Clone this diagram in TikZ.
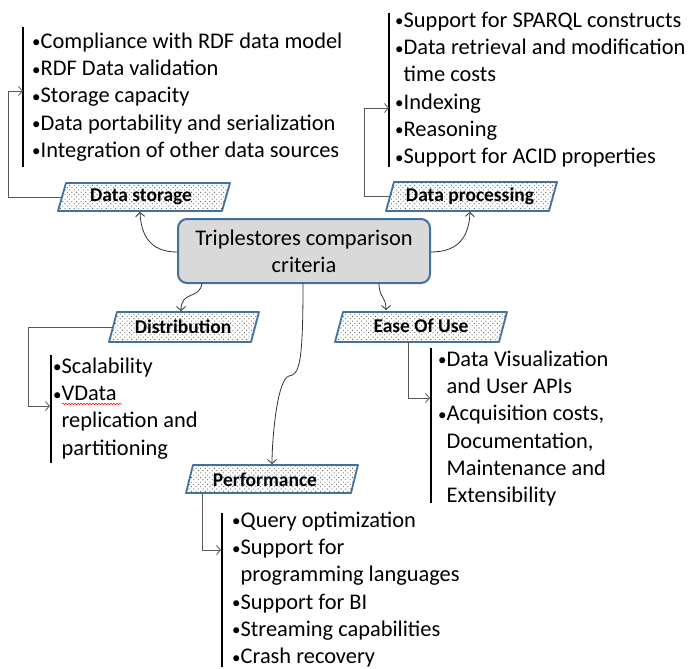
\documentclass[tikz,border=0pt]{standalone}
\usepackage{fontspec}
\setmainfont{Carlito}
\usetikzlibrary{arrows.meta,patterns,decorations.pathmorphing}
\definecolor{boxblue}{HTML}{41719C}
\definecolor{centerfill}{HTML}{D9D9D9}
\definecolor{conngray}{HTML}{595959}
\pgfdeclarepatternformonly{sdots}{\pgfqpoint{-1pt}{-1pt}}{\pgfqpoint{5pt}{5pt}}{\pgfqpoint{4.6pt}{4.6pt}}{%
  \pgfpathcircle{\pgfqpoint{0.6pt}{0.6pt}}{0.55pt}
  \pgfpathcircle{\pgfqpoint{2.9pt}{2.9pt}}{0.55pt}
  \pgfusepath{fill}}
\tikzset{
  para/.style={draw=boxblue, line width=1.8pt, line join=round, preaction={fill=white}, pattern=sdots, pattern color=black!70},
  paralbl/.style={font=\bfseries\fontsize{19.5}{21}\selectfont, inner sep=0pt, fill=none},
  central/.style={draw=boxblue, line width=2pt, fill=centerfill, rounded corners=9pt, align=center, font=\fontsize{22.4}{27}\selectfont},
  bullets/.style={anchor=north west, inner sep=0pt, align=left, font=\fontsize{22.4}{27.3}\selectfont},
  bracket/.style={line width=2.2pt, black},
  stepconn/.style={conngray, line width=0.8pt, -{Straight Barb[length=4pt,width=9pt]}},
  curveconn/.style={black!80, line width=0.8pt, -{Straight Barb[length=4pt,width=9pt]}},
}
\newcommand{\fst}{\rule{0pt}{16pt}}
\newcommand{\bl}{\makebox[8.5pt][l]{\raisebox{0.5pt}{\fontsize{17}{17}\selectfont•}}}
\newcommand{\ind}{\hspace*{8.5pt}}
\begin{document}
\begin{tikzpicture}[x=1pt,y=-1pt]
\useasboundingbox (0,0) rectangle (688,669);

% central node
\node[central, minimum width=252pt, minimum height=64pt] (c) at (304,251) {Triplestores comparison\\criteria};

% parallelograms
\path[para] (58,211) -- (66,183) -- (230,183) -- (222,211) -- cycle;
\node[paralbl] (ds) at (141,197) {Data storage};
\path[para] (386,211) -- (394,182) -- (557,182) -- (549,211) -- cycle;
\node[paralbl] (dp) at (470,196) {Data processing};
\path[para] (109,342) -- (117,312) -- (259,312) -- (251,342) -- cycle;
\node[paralbl] (di) at (183,327) {Distribution};
\path[para] (335,342) -- (343,312) -- (507,312) -- (499,342) -- cycle;
\node[paralbl] (eu) at (421,326) {Ease Of Use};
\path[para] (186,493) -- (193,465) -- (358,465) -- (351,493) -- cycle;
\node[paralbl] (pf) at (265,480) {Performance};

% named coordinates
\coordinate (dsL) at (62,197);
\coordinate (dsC) at (8,197);
\coordinate (dsB) at (8,91);
\coordinate (dsT) at (23,91);
\coordinate (dpL) at (390,196);
\coordinate (dpC) at (364,196);
\coordinate (dpB) at (364,108);
\coordinate (dpT) at (389,108);
\coordinate (diL) at (113,327);
\coordinate (diC) at (28,327);
\coordinate (diB) at (28,406);
\coordinate (diT) at (50,406);
\coordinate (euL) at (408,342);
\coordinate (euB) at (408,398);
\coordinate (euT) at (430,398);
\coordinate (pfL) at (202,493);
\coordinate (pfB) at (202,550);
\coordinate (pfT) at (221,550);

% brackets
\draw[bracket] (23,27) -- (23,167);
\draw[bracket] (389,13) -- (389,167);
\draw[bracket] (51,355) -- (51,463);
\draw[bracket] (431,348) -- (431,503);
\draw[bracket] (222,513) -- (222,667);

% step connectors
\draw[stepconn] (dsL) -- (dsC) -- (dsB) -- (dsT);
\draw[stepconn] (dpL) -- (dpC) -- (dpB) -- (dpT);
\draw[stepconn] (diL) -- (diC) -- (diB) -- (diT);
\draw[stepconn] (euL) -- (euB) -- (euT);
\draw[stepconn] (pfL) -- (pfB) -- (pfT);

% curved connectors from central node
\coordinate (dsA) at (140,212);
\coordinate (dpA) at (470,212);
\coordinate (diA) at (181,311);
\coordinate (euA) at (386,310);
\coordinate (pfA) at (272,464);
\coordinate (pfM) at (289,376);
\draw[curveconn] (c.west |- 0,252) .. controls (150,252) and (141,235) .. (dsA);
\draw[curveconn] (c.east |- 0,252) .. controls (460,252) and (469,235) .. (dpA);
\draw[curveconn] (202,283) .. controls (200,300) and (181,290) .. (diA);
\draw[curveconn] (379,283) .. controls (379,298) and (386,296) .. (euA);
\draw[curveconn] (303,283) .. controls (303,360) and (300,375) .. (pfM) .. controls (277,379) and (272,440) .. (pfA);

% bullet texts
\node[bullets] (dst) at (32,32) {\fst\bl Compliance with RDF data model\\\bl RDF Data validation\\\bl Storage capacity\\\bl Data portability and serialization\\\bl Integration of other data sources};
\node[bullets] (dpt) at (395,11) {\fst\bl Support for SPARQL constructs\\\bl Data retrieval and modification\\\ind time costs\\\bl Indexing\\\bl Reasoning\\\bl Support for ACID properties};
\node[bullets] (dit) at (53,357) {\fst\bl Scalability\\\bl VData\\\ind replication and\\\ind partitioning};
\node[bullets] (eut) at (438,350) {\fst\bl Data Visualization\\\ind and User APIs\\\bl Acquisition costs,\\\ind Documentation,\\\ind Maintenance and\\\ind Extensibility};
\node[bullets] (pft) at (232,511) {\fst\bl Query optimization\\\bl Support for\\\ind programming languages\\\bl Support for BI\\\bl Streaming capabilities\\\bl Crash recovery};

% spell-check squiggle
\coordinate (sqA) at (62,404);
\coordinate (sqB) at (122,404);
\draw[red, line width=0.5pt, decorate, decoration={snake, amplitude=0.8pt, segment length=3pt}] (sqA) -- (sqB);
\end{tikzpicture}
\end{document}
